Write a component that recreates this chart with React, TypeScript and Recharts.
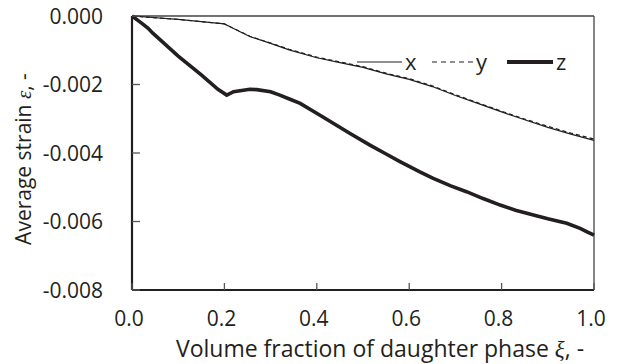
import { LineChart, Line, XAxis, YAxis, ReferenceLine, Legend } from 'recharts'

const xiXY = [0, 0.1, 0.2, 0.21, 0.234, 0.255, 0.3, 0.34, 0.4, 0.45, 0.5, 0.55, 0.6, 0.65, 0.7, 0.75, 0.8, 0.85, 0.9, 0.95, 1.0]
const strainX = [0, -0.0001, -0.00023, -0.0003, -0.00046, -0.0006, -0.0008, -0.00099, -0.00122, -0.00136, -0.0015, -0.00169, -0.00185, -0.00206, -0.00232, -0.00256, -0.0028, -0.00303, -0.00325, -0.00345, -0.00363]
const strainY = [0, -0.0001, -0.00023, -0.0003, -0.00045, -0.00059, -0.00079, -0.00097, -0.0012, -0.00134, -0.00148, -0.00167, -0.00183, -0.00204, -0.0023, -0.00254, -0.00278, -0.00301, -0.00322, -0.00342, -0.00359]

const xiZ = [0, 0.02, 0.035, 0.045, 0.06, 0.1, 0.15, 0.186, 0.205, 0.22, 0.255, 0.27, 0.3, 0.32, 0.342, 0.364, 0.407, 0.44, 0.472, 0.515, 0.55, 0.58, 0.623, 0.652, 0.69, 0.724, 0.76, 0.797, 0.83, 0.869, 0.9, 0.941, 0.97, 0.985, 1.0]
const strainZ = [0, -0.0002, -0.00036, -0.0005, -0.00068, -0.00117, -0.00172, -0.00214, -0.00231, -0.00221, -0.00214, -0.00215, -0.00221, -0.00231, -0.00243, -0.00255, -0.0029, -0.00317, -0.00343, -0.00377, -0.00403, -0.00425, -0.00455, -0.00474, -0.00496, -0.00513, -0.00533, -0.00552, -0.00567, -0.00581, -0.00592, -0.00605, -0.0062, -0.0063, -0.0064]

const xTicks = [0, 0.2, 0.4, 0.6, 0.8, 1.0]
const yTicks = [0, -0.002, -0.004, -0.006, -0.008]

const dataX = xiXY.map((xi, i) => ({ xi, v: strainX[i] }))
const dataY = xiXY.map((xi, i) => ({ xi, v: strainY[i] }))
const dataZ = xiZ.map((xi, i) => ({ xi, v: strainZ[i] }))

const FONT = '"Open Sans", sans-serif'
const GREEK = '"Liberation Serif", serif'
const INK = '#231f20'

function YTick(props: any) {
  const { x, y, payload } = props
  return (
    <g>
      <line x1={x} y1={y} x2={x + 8} y2={y} stroke="#555" strokeWidth={1.3} />
      <text x={x - 29} y={y} dy="0.36em" textAnchor="end" fontFamily={FONT} fontSize={21} fill={INK}>
        {payload.value.toFixed(3)}
      </text>
    </g>
  )
}

function XTick(props: any) {
  const { x, y, payload } = props
  return (
    <g>
      <line x1={x} y1={y} x2={x} y2={y - 7} stroke="#555" strokeWidth={1.3} />
      <text x={x - 3} y={y + 36} textAnchor="middle" fontFamily={FONT} fontSize={21} fill={INK}>
        {payload.value.toFixed(1)}
      </text>
    </g>
  )
}

function LegendBox() {
  const items = [
    { name: 'x', x0: 357, w: 45, sw: 1.2, dash: undefined as string | undefined },
    { name: 'y', x0: 432, w: 41, sw: 1.2, dash: '5 4' },
    { name: 'z', x0: 507, w: 46, sw: 4, dash: undefined },
  ]
  return (
    <svg width={240} height={40} style={{ display: 'block', overflow: 'visible' }}>
      {items.map((it) => (
        <g key={it.name}>
          <line x1={it.x0 - 350} y1={19} x2={it.x0 - 350 + it.w} y2={19} stroke={INK} strokeWidth={it.sw} strokeDasharray={it.dash} />
          <text x={it.x0 - 350 + it.w + 3} y={27} fontFamily={FONT} fontSize={22} fill={INK}>{it.name}</text>
        </g>
      ))}
    </svg>
  )
}

export default function App() {
  return (
    <div style={{ position: 'absolute', left: 0, top: 0, background: '#fff' }}>
      <LineChart width={618} height={364} margin={{ top: 16, right: 24, bottom: 0, left: 0 }}>
        <XAxis
          dataKey="xi"
          type="number"
          domain={[0, 1]}
          ticks={xTicks}
          allowDuplicatedCategory={false}
          height={74}
          tickSize={0}
          tickMargin={0}
          tickLine={false}
          axisLine={{ stroke: INK, strokeWidth: 2.2 }}
          tick={<XTick />}
          label={() => (
            <text x={380} y={357} textAnchor="middle" fontFamily={FONT} fontSize={23} fill={INK}>
              Volume fraction of daughter phase <tspan fontFamily={GREEK} fontStyle="italic">ξ</tspan>, -
            </text>
          )}
        />
        <YAxis
          type="number"
          domain={[-0.008, 0]}
          ticks={yTicks}
          width={132}
          tickSize={0}
          tickMargin={0}
          tickLine={false}
          axisLine={{ stroke: INK, strokeWidth: 2.2 }}
          tick={<YTick />}
          label={() => (
            <text x={31} y={159} transform="rotate(-90 31 159)" textAnchor="middle" fontFamily={FONT} fontSize={21} fill={INK}>
              Average strain <tspan fontFamily={GREEK} fontStyle="italic">ε</tspan>, -
            </text>
          )}
        />
        <ReferenceLine y={0} stroke="#444" strokeWidth={1.3} />
        <ReferenceLine x={1} stroke="#444" strokeWidth={1.3} />
        <Legend
          verticalAlign="top"
          content={<LegendBox />}
          wrapperStyle={{ position: 'absolute', left: 350, top: 43, width: 240, height: 0, overflow: 'visible' }}
        />
        <Line data={dataX} dataKey="v" name="x" type="linear" stroke={INK} strokeWidth={1.2} dot={false} isAnimationActive={false} />
        <Line data={dataY} dataKey="v" name="y" type="linear" stroke={INK} strokeWidth={1.2} strokeDasharray="4 3" dot={false} isAnimationActive={false} />
        <Line data={dataZ} dataKey="v" name="z" type="linear" stroke={INK} strokeWidth={3.6} dot={false} isAnimationActive={false} />
      </LineChart>
    </div>
  )
}
